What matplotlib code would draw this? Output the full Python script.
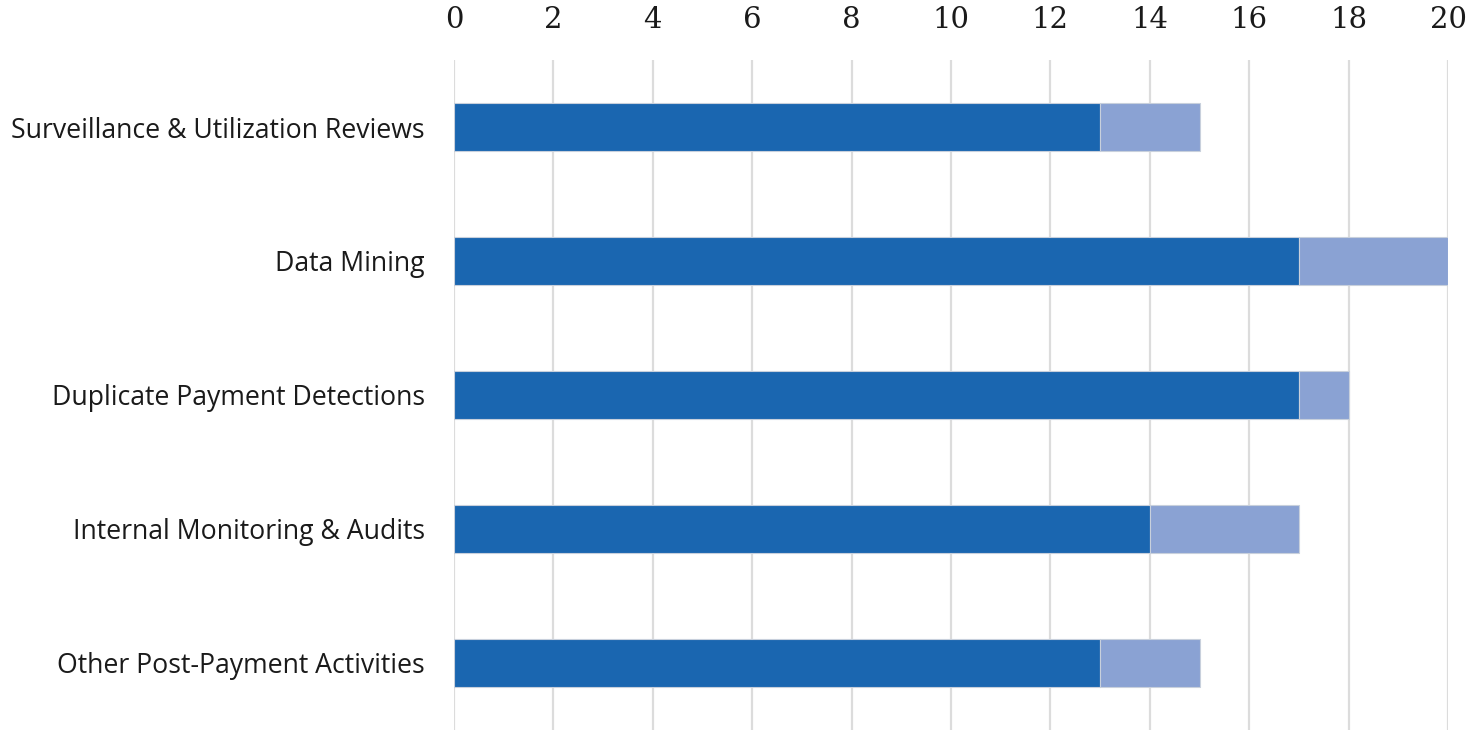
import matplotlib
matplotlib.use("Agg")
import matplotlib.pyplot as plt

categories = ["Surveillance & Utilization Reviews", "Data Mining",
              "Duplicate Payment Detections", "Internal Monitoring & Audits",
              "Other Post-Payment Activities"]
primary = [13, 17, 17, 14, 13]
secondary = [2, 3, 1, 3, 2]
xticks = [0, 2, 4, 6, 8, 10, 12, 14, 16, 18, 20]

fig = plt.figure(figsize=(14.74, 7.31), dpi=100)
ax = fig.add_axes([454/1474, 1/731, (1448-454)/1474, (730-60)/731])

y = list(range(len(categories)))
ax.barh(y, primary, height=0.36, color="#1a66b0", edgecolor="#c8d0dc", linewidth=0.8, zorder=3)
ax.barh(y, secondary, left=primary, height=0.36, color="#8aa2d3", edgecolor="#c8d0dc", linewidth=0.8, zorder=3)

ax.set_xlim(0, 20)
ax.set_ylim(len(categories) - 0.5, -0.5)
ax.set_yticks(y)
ax.set_yticklabels(categories, fontfamily="Open Sans", fontsize=19.2, color="#1a1a1a")
ax.set_xticks(xticks)
ax.set_xticklabels([str(t) for t in xticks], fontfamily="DejaVu Serif", fontsize=21, color="#1a1a1a")
ax.xaxis.tick_top()
ax.tick_params(axis="x", length=0, pad=19)
ax.tick_params(axis="y", length=0, pad=21)
ax.grid(axis="x", color="#dcdcdc", linewidth=1.6, zorder=0)
for s in ax.spines.values():
    s.set_visible(False)

fig.savefig("out.png", dpi=100)
